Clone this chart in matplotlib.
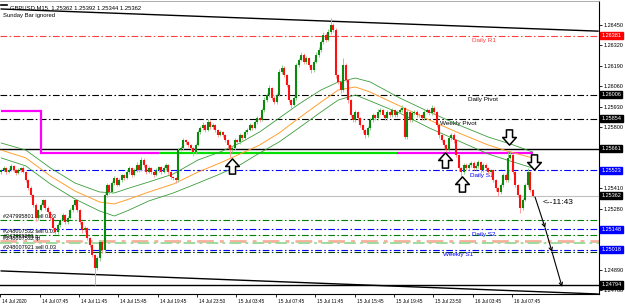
import numpy as np
import matplotlib
matplotlib.use('Agg')
import matplotlib.pyplot as plt
from matplotlib.path import Path
from matplotlib.lines import Line2D
from matplotlib.transforms import blended_transform_factory, ScaledTranslation

plt.rcParams['font.family'] = ['Liberation Sans', 'DejaVu Sans']

# GBPUSD M15 bar closes, oldest first (open = previous close)
first_open = 1.25513
closes = [
    1.25526, 1.25539, 1.25513, 1.25526, 1.25552, 1.25526, 1.25507, 1.25526, 1.25539, 1.25513,
    1.25462, 1.25411, 1.25367, 1.25303, 1.25220, 1.25271, 1.25303, 1.25335, 1.25284, 1.25259,
    1.25220, 1.25157, 1.25131, 1.25176, 1.25208, 1.25239, 1.25195, 1.25220, 1.25271, 1.25303,
    1.25335, 1.25271, 1.25195, 1.25144, 1.25157, 1.25093, 1.25048, 1.24985, 1.24902, 1.24966,
    1.25067, 1.25016, 1.25367, 1.25431, 1.25386, 1.25443, 1.25475, 1.25431, 1.25462, 1.25494,
    1.25475, 1.25513, 1.25539, 1.25494, 1.25526, 1.25558, 1.25526, 1.25590, 1.25558, 1.25513,
    1.25539, 1.25513, 1.25494, 1.25526, 1.25545, 1.25513, 1.25539, 1.25558, 1.25513, 1.25482,
    1.25475, 1.25462, 1.25653, 1.25666, 1.25717, 1.25704, 1.25685, 1.25666, 1.25641, 1.25685,
    1.25768, 1.25794, 1.25813, 1.25781, 1.25832, 1.25800, 1.25813, 1.25781, 1.25749, 1.25768,
    1.25749, 1.25717, 1.25685, 1.25653, 1.25666, 1.25717, 1.25704, 1.25749, 1.25730, 1.25768,
    1.25781, 1.25813, 1.25794, 1.25832, 1.25857, 1.25845, 1.25908, 1.25972, 1.26004, 1.26048,
    1.25985, 1.25959, 1.26004, 1.26150, 1.26176, 1.26131, 1.26068, 1.25972, 1.25940, 1.25985,
    1.26195, 1.26227, 1.26259, 1.26214, 1.26240, 1.26195, 1.26163, 1.26214, 1.26259, 1.26290,
    1.26341, 1.26386, 1.26354, 1.26405, 1.26450, 1.26418, 1.26131, 1.26087, 1.26036, 1.26195,
    1.26099, 1.25972, 1.25876, 1.25845, 1.25896, 1.25857, 1.25813, 1.25781, 1.25749, 1.25794,
    1.25845, 1.25876, 1.25857, 1.25896, 1.25908, 1.25876, 1.25857, 1.25896, 1.25876, 1.25908,
    1.25876, 1.25896, 1.25908, 1.25921, 1.25736, 1.25896, 1.25845, 1.25889, 1.25896, 1.25876,
    1.25876, 1.25857, 1.25896, 1.25908, 1.25889, 1.25921, 1.25896, 1.25813, 1.25749, 1.25717,
    1.25685, 1.25653, 1.25730, 1.25749, 1.25717, 1.25622, 1.25539, 1.25513, 1.25558, 1.25539,
    1.25558, 1.25571, 1.25539, 1.25552, 1.25577, 1.25526, 1.25558, 1.25539, 1.25513, 1.25526,
    1.25462, 1.25411, 1.25386, 1.25431, 1.25494, 1.25462, 1.25603, 1.25622, 1.25513, 1.25431,
    1.25367, 1.25284, 1.25335, 1.25431, 1.25513, 1.25399, 1.25362,
]
# upper / lower shadows beyond the body, in points (0.00001)
wick_up = [
    8, 12, 6, 10, 14, 5, 9, 12, 7, 10,
    6, 8, 10, 5, 12, 9, 15, 8, 6, 10,
    7, 5, 9, 12, 8, 14, 6, 10, 12, 8,
    15, 6, 8, 5, 10, 7, 6, 9, 8, 12,
    10, 8, 15, 12, 6, 14, 10, 8, 12, 9,
    8, 12, 10, 6, 14, 18, 8, 22, 10, 6,
    10, 8, 6, 12, 9, 7, 11, 14, 6, 5,
    8, 6, 12, 15, 10, 8, 6, 9, 7, 12,
    10, 14, 18, 8, 20, 10, 12, 8, 6, 10,
    8, 6, 5, 7, 10, 12, 8, 14, 9, 12,
    10, 12, 8, 14, 16, 10, 12, 18, 14, 20,
    8, 10, 14, 22, 18, 10, 8, 6, 5, 12,
    16, 14, 20, 10, 12, 8, 6, 14, 18, 22,
    16, 20, 12, 18, 44, 14, 10, 8, 6, 45,
    12, 8, 6, 10, 14, 8, 6, 5, 8, 12,
    14, 12, 10, 16, 12, 8, 10, 14, 9, 12,
    10, 12, 14, 18, 8, 10, 9, 14, 12, 10,
    12, 10, 14, 16, 10, 18, 12, 8, 6, 5,
    8, 6, 14, 12, 10, 6, 5, 8, 12, 10,
    14, 12, 10, 12, 16, 8, 12, 10, 8, 9,
    8, 6, 5, 12, 14, 10, 38, 20, 8, 6,
    5, 6, 12, 14, 26, 8, 5,
]
wick_dn = [
    10, 8, 12, 9, 6, 14, 10, 8, 12, 9,
    14, 12, 10, 15, 18, 10, 8, 12, 14, 10,
    12, 16, 14, 10, 12, 8, 15, 10, 8, 12,
    8, 12, 14, 18, 10, 12, 14, 16, 108, 14,
    18, 20, 12, 10, 14, 8, 12, 10, 8, 14,
    12, 8, 10, 14, 9, 12, 10, 8, 12, 14,
    8, 12, 10, 9, 14, 10, 8, 12, 10, 14,
    12, 16, 10, 8, 12, 10, 14, 12, 26, 10,
    8, 12, 10, 14, 9, 12, 10, 14, 12, 8,
    12, 14, 16, 44, 10, 12, 8, 10, 12, 8,
    10, 8, 12, 9, 10, 12, 8, 10, 12, 10,
    14, 12, 10, 8, 10, 12, 16, 14, 19, 10,
    12, 10, 8, 14, 10, 12, 18, 10, 8, 12,
    10, 12, 14, 8, 12, 10, 16, 14, 20, 10,
    12, 16, 14, 10, 12, 14, 12, 16, 18, 10,
    12, 10, 14, 10, 12, 8, 14, 10, 12, 10,
    12, 10, 8, 12, 10, 14, 12, 10, 12, 14,
    10, 12, 10, 8, 14, 10, 12, 14, 16, 12,
    14, 13, 10, 12, 16, 14, 18, 31, 10, 12,
    10, 12, 14, 10, 12, 16, 10, 12, 14, 10,
    12, 16, 26, 10, 12, 14, 10, 8, 14, 16,
    14, 32, 10, 8, 12, 14, 10,
]

# moving average + envelope, read at these bars
ma_idx = [0, 10, 20, 30, 40, 46, 52, 60, 70, 80, 89, 97, 105, 113, 121, 130, 137, 144,
          150, 156, 162, 174, 186, 198, 207, 216]
ma_upper = [1.25698, 1.25653, 1.25539, 1.25443, 1.25386, 1.25380, 1.25411, 1.25450, 1.25501,
            1.25590, 1.25641, 1.25698, 1.25768, 1.25857, 1.25946, 1.26036, 1.26087, 1.26112,
            1.26087, 1.26036, 1.25985, 1.25896, 1.25813, 1.25736, 1.25692, 1.25641]
ma_mid = [1.25653, 1.25603, 1.25488, 1.25392, 1.25322, 1.25310, 1.25341, 1.25386, 1.25437,
          1.25513, 1.25571, 1.25628, 1.25685, 1.25762, 1.25857, 1.25959, 1.26036, 1.26055,
          1.26023, 1.25978, 1.25934, 1.25845, 1.25762, 1.25685, 1.25641, 1.25603]
ma_lower = [1.25603, 1.25552, 1.25437, 1.25341, 1.25265, 1.25233, 1.25271, 1.25329, 1.25380,
            1.25443, 1.25501, 1.25558, 1.25634, 1.25705, 1.25794, 1.25896, 1.25972, 1.26004,
            1.25966, 1.25927, 1.25889, 1.25794, 1.25711, 1.25628, 1.25583, 1.25539]

# support / resistance indicator segments (start bar, end bar, level)
sr_start = [0, 16, 64, 161]
sr_end = [16, 64, 161, 216]
sr_level = [1.25902, 1.25637, 1.25637, 1.25637]

# horizontal levels
pivot_names = ['Daily R1', 'Daily Pivot', 'Weekly Pivot', 'Daily S1', 'Daily S2', 'Weekly S1']
pivot_prices = [1.26381, 1.26006, 1.25854, 1.25523, 1.25148, 1.25018]
pivot_label_bar = [191.4, 189.8, 178.4, 190.6, 191.4, 179.6]
user_line = 1.25661
channel_top = [(0, 1.26552), (242.6, 1.26411)]
channel_bottom = [(0, 1.24883), (242.6, 1.24736)]
low_line = 1.24794

order_names = ['#247995801 sell 0.03', '#248007532 sell 0.03', '#248007921 sell 0.03']
order_prices = [1.25205, 1.25110, 1.25005]
tp_names = ['#247995801 tp', '#248007532 tp']
tp_prices = [1.25074, 1.25063]

# right-axis labels that are not covered by a price box
price_ticks = [1.24760, 1.24890, 1.25280, 1.25410, 1.25800, 1.25930, 1.26060,
               1.26190, 1.26320, 1.26450]
time_labels = ['14 Jul 2020', '14 Jul 07:45', '14 Jul 11:45', '14 Jul 15:45', '14 Jul 19:45',
               '14 Jul 23:50', '15 Jul 03:45', '15 Jul 07:45', '15 Jul 11:45', '15 Jul 15:45',
               '15 Jul 19:45', '15 Jul 23:50', '16 Jul 03:45', '16 Jul 07:45']
bars_per_label = 16

arrows_up = [(93.8, 1.25552), (180.4, 1.25590), (187.3, 1.25437)]
arrows_down = [(206.5, 1.25736), (216.6, 1.25577)]
# hand drawn projection
projection = [(217.0, 1.25354), (221.1, 1.25157), (223.9, 1.25004), (228.0, 1.24781)]

# ---------------------------------------------------------------
W, H = 625, 308
fig = plt.figure(figsize=(W / 100, H / 100), dpi=100)
ax = fig.add_axes([0, (H - 294) / H, 599 / W, 293 / H])
ax.set_xlim(-0.49, 243.0)
ax.set_ylim(1.24736, 1.26603)

c = np.array(closes)
o = np.concatenate([[first_open], c[:-1]])
hi = np.maximum(o, c) + np.array(wick_up) * 1e-5
lo = np.minimum(o, c) - np.array(wick_dn) * 1e-5
idx = np.arange(len(c))
bull = c >= o

dashdot = (0, (6, 2.2, 1.4, 2.2))

# levels
lvl_colors = ['#ff4040', 'black', 'black', '#0000ff', '#0000ff', '#0000ff']
for p, col in zip(pivot_prices, lvl_colors):
    ax.axhline(p, color=col, lw=0.8, ls=dashdot, zorder=2)
for name, p, b, col in zip(pivot_names, pivot_prices, pivot_label_bar, lvl_colors):
    ax.annotate(name, (b, p), xytext=(0, -5), textcoords='offset pixels',
                fontsize=4.6, color=col, va='center', ha='left', zorder=3)

ax.axhline(user_line, color='black', lw=1.0, zorder=3)
ax.axhline(low_line, color='black', lw=1.0, zorder=3)
ax.axhline(closes[-1], color='#c0c0c0', lw=0.8, zorder=2)

order_cols = ['#008000', '#008000', '#004000']
for name, p, col in zip(order_names, order_prices, order_cols):
    ax.axhline(p, color=col, lw=0.8, ls=dashdot, zorder=2)
    ax.annotate(name, (0, p), xytext=(2, 4), textcoords='offset pixels',
                fontsize=4.0, color='black', va='center', ha='left', zorder=3)
ax.axhline(tp_prices[0], color='#f6b09c', lw=2.0, ls=dashdot, zorder=2)
ax.axhline(tp_prices[1], color='#9edc9e', lw=1.4, ls=dashdot, zorder=2)
for name, p in zip(tp_names, tp_prices):
    ax.annotate(name, (0, p), xytext=(2, 4), textcoords='offset pixels',
                fontsize=4.0, color='black', va='center', ha='left', zorder=3)

for pts in (channel_top, channel_bottom):
    ax.plot([pts[0][0], pts[1][0]], [pts[0][1], pts[1][1]], color='black', lw=1.0, zorder=3)

# sr indicator
sr_colors = ['#ff00ff', '#ff00ff', '#00e000', '#ff00ff']
for k, (s, e, lv, col) in enumerate(zip(sr_start, sr_end, sr_level, sr_colors)):
    ax.plot([s, e], [lv, lv], color=col, lw=1.6, zorder=3, solid_capstyle='butt')
    if k + 1 < len(sr_level) and sr_level[k + 1] != lv:
        ax.plot([e, e], [lv, sr_level[k + 1]], color=col, lw=1.6, zorder=3)

# moving averages
ax.plot(ma_idx, ma_upper, color='#3c9c3c', lw=0.6, zorder=4)
ax.plot(ma_idx, ma_lower, color='#3c9c3c', lw=0.6, zorder=4)
ax.plot(ma_idx, ma_mid, color='#ffa030', lw=0.7, zorder=4)

# candles
ax.vlines(idx, lo, hi, colors=np.where(bull, '#8fd08f', '#ff9c9c'), lw=0.7, zorder=5)
ax.vlines(idx, np.minimum(o, c), np.maximum(o, c) + 1e-5,
          colors=np.where(bull, '#0a8a0a', '#ff1010'), lw=1.5, zorder=6)

# arrows
up_path = Path([(-0.2, -0.5), (0.2, -0.5), (0.2, 0.0), (0.45, 0.0), (0.0, 0.5),
                (-0.45, 0.0), (-0.2, 0.0), (-0.2, -0.5)],
               [Path.MOVETO] + [Path.LINETO] * 6 + [Path.CLOSEPOLY])
dn_path = Path(up_path.vertices * [1, -1], up_path.codes)
ax.scatter(*zip(*arrows_up), marker=up_path, s=120, facecolors='white',
           edgecolors='black', linewidths=1.1, zorder=8)
ax.scatter(*zip(*arrows_down), marker=dn_path, s=120, facecolors='white',
           edgecolors='black', linewidths=1.1, zorder=8)

for a, b in zip(projection[:-1], projection[1:]):
    ax.annotate('', xy=b, xytext=a,
                arrowprops=dict(arrowstyle='->', lw=0.8, color='black',
                                mutation_scale=6, shrinkA=0, shrinkB=0), zorder=8)
ax.annotate('<--11:43', (len(closes) + 3, closes[-1]), xytext=(0, -6.5),
            textcoords='offset pixels', fontsize=6, va='center', ha='left', zorder=8)

# axes styling
ax.spines['left'].set_visible(False)
ax.spines['top'].set_color('#a0a0a0')
ax.spines['top'].set_linewidth(0.6)
ax.spines['right'].set_linewidth(0.8)
ax.spines['bottom'].set_linewidth(0.8)

ax.yaxis.tick_right()
ax.set_yticks(price_ticks)
ax.set_yticklabels(['%.5f' % p for p in price_ticks])
ax.tick_params(axis='y', length=2, width=0.6, pad=1.5, labelsize=4)

tick_idx = np.arange(len(time_labels)) * bars_per_label - 0.37
ax.set_xticks(tick_idx)
ax.set_xticklabels(time_labels)
ax.tick_params(axis='x', length=2.5, width=0.6, pad=1, labelsize=3.4)
shift = ScaledTranslation(2 / 100, 0, fig.dpi_scale_trans)
for lab in ax.get_xticklabels():
    lab.set_horizontalalignment('left')
    lab.set_transform(lab.get_transform() + shift)

# price boxes on the right
box_prices = [1.26381, 1.26006, 1.25854, 1.25661, 1.25523, 1.25362, 1.25148, 1.25018, 1.24794]
box_cols = ['#ff0000', 'black', 'black', 'black', '#0000ff', 'black', '#0000ff', '#0000ff', 'black']
tr = blended_transform_factory(ax.transAxes, ax.transData)
for p, col in zip(box_prices, box_cols):
    ax.text(1.004, p, '%.5f' % p, transform=tr, fontsize=4, color='white', ha='left',
            va='center', zorder=10, clip_on=False,
            bbox=dict(boxstyle='square,pad=0.2', fc=col, ec=col))

# header texts
fig.add_artist(Line2D([1 / W, 7 / W], [1 - 5 / H, 1 - 5 / H], color='black', lw=1.2))
fig.text(10 / W, 1 - 8 / H, 'GBPUSD,M15, 1.25362 1.25392 1.25344 1.25362', fontsize=4.2,
         va='center', ha='left')
fig.text(3 / W, 1 - 16 / H, 'Sunday Bar ignored', fontsize=4.2, va='center', ha='left')

fig.savefig('out.png', dpi=100)
